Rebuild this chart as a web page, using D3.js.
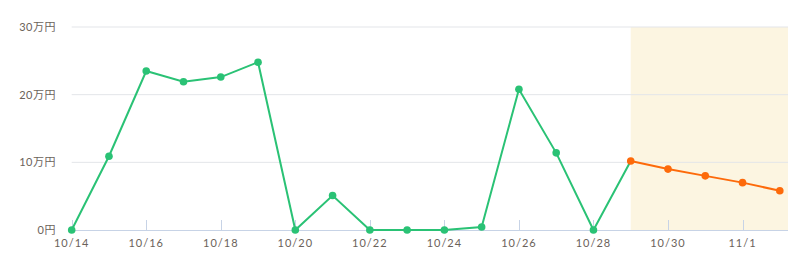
<!DOCTYPE html>
<html><head><meta charset="utf-8">
<script src="https://cdn.jsdelivr.net/npm/d3@7"></script>
<style>
body{margin:0;background:#fff;}
text{font-family:Lato,"Noto Sans CJK JP",sans-serif;}
</style></head>
<body><svg id="c" width="806" height="274"></svg>
<script>
const dates = ["10/14","10/15","10/16","10/17","10/18","10/19","10/20","10/21","10/22","10/23","10/24","10/25","10/26","10/27","10/28","10/29","10/30","10/31","11/1","11/2"];
const actual = [0,10.9,23.5,21.9,22.6,24.8,0,5.1,0,0,0,0.45,20.8,11.4,0,10.2];
const forecastStart = 15;
const forecast = [10.2,9.0,8.0,7.0,5.8];
const yTicks = [0,10,20,30];
const yTickLabels = ["0円","10万円","20万円","30万円"];
const xTickLabels = ["10/14","10/16","10/18","10/20","10/22","10/24","10/26","10/28","10/30","11/1"];

const svg = d3.select("#c");
const L=71.7, R=788, T=27, B=230;
const x = d3.scaleLinear().domain([0,19.22]).range([L,R]);
const y = d3.scaleLinear().domain([0,30]).range([B,T]);

// forecast band
svg.append("rect").attr("x",x(forecastStart)).attr("y",y(30)).attr("width",R-x(forecastStart)).attr("height",y(0)-y(30)).attr("fill","#fcf5e1");

// grid
svg.append("g").selectAll("line").data(yTicks.slice(1)).join("line")
 .attr("x1",L).attr("x2",R).attr("y1",d=>y(d)).attr("y2",d=>y(d))
 .attr("stroke","#e3e5e9").attr("stroke-width",1);

// y labels
svg.append("g").selectAll("text").data(yTicks).join("text")
 .attr("x",56).attr("y",d=>y(d)).attr("dy","0.35em").attr("text-anchor","end")
 .attr("font-size",11).attr("fill","#6b625a").attr("letter-spacing","0.5px")
 .text((d,i)=>yTickLabels[i]);

// x axis
svg.append("line").attr("x1",L).attr("x2",R).attr("y1",y(0)+0.5).attr("y2",y(0)+0.5).attr("stroke","#c7d3e6");
const xt = xTickLabels.map(l=>dates.indexOf(l));
svg.append("g").selectAll("line").data(xt).join("line")
 .attr("x1",d=>Math.round(x(d))+0.5).attr("x2",d=>Math.round(x(d))+0.5).attr("y1",y(0)-10).attr("y2",y(0))
 .attr("stroke","#c7d3e6");
svg.append("g").selectAll("text").data(xt).join("text")
 .attr("x",d=>x(d)).attr("y",247).attr("text-anchor","middle")
 .attr("font-size",11).attr("fill","#6b625a").attr("letter-spacing","1px")
 .text((d,i)=>xTickLabels[i]);

const line = d3.line().x(d=>x(d[0])).y(d=>y(d[1]));
const act = actual.map((v,i)=>[i,v]);
const fc = forecast.map((v,i)=>[forecastStart+i,v]);
svg.append("path").attr("d",line(act)).attr("fill","none").attr("stroke","#2ac275").attr("stroke-width",2);
svg.append("path").attr("d",line(fc)).attr("fill","none").attr("stroke","#fd6a0a").attr("stroke-width",2);
svg.append("g").selectAll("circle").data(act.slice(0,forecastStart)).join("circle")
 .attr("cx",d=>x(d[0])).attr("cy",d=>y(d[1])).attr("r",3.8).attr("fill","#2ac275");
svg.append("g").selectAll("circle").data(fc).join("circle")
 .attr("cx",d=>x(d[0])).attr("cy",d=>y(d[1])).attr("r",3.8).attr("fill","#fd6a0a");
</script></body></html>
